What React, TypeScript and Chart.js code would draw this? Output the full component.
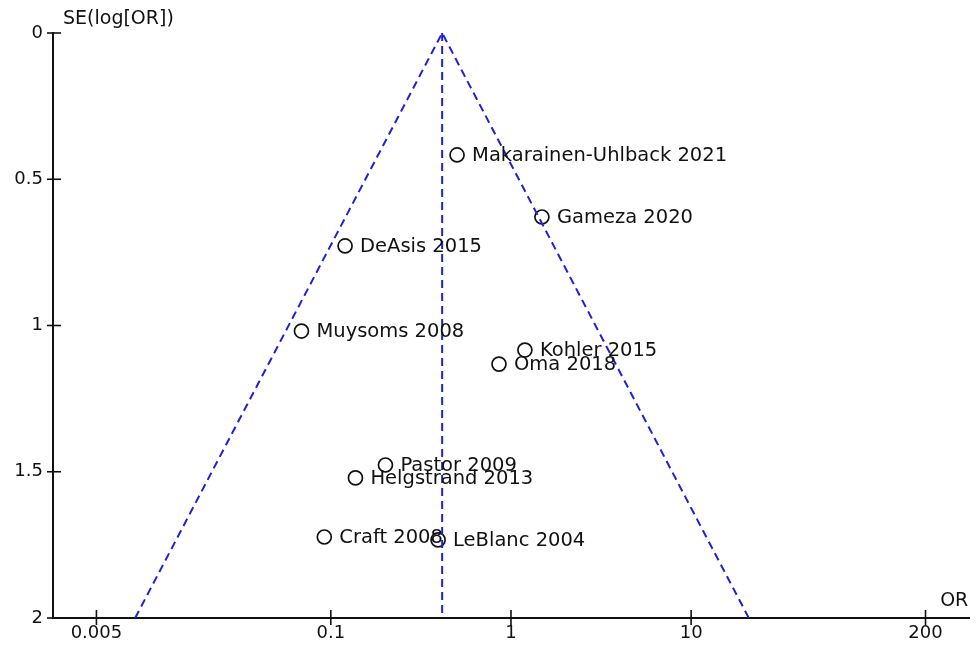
import React, { useEffect, useRef } from "react";
import { Chart, registerables } from "chart.js";

Chart.register(...registerables);

const studyNames = [
  "Makarainen-Uhlback 2021",
  "Gameza 2020",
  "DeAsis 2015",
  "Muysoms 2008",
  "Kohler 2015",
  "Oma 2018",
  "Pastor 2009",
  "Helgstrand 2013",
  "Craft 2008",
  "LeBlanc 2004",
];
const studyOR = [0.502, 1.485, 0.12, 0.0687, 1.195, 0.858, 0.201, 0.137, 0.092, 0.394];
const studySE = [0.417, 0.629, 0.728, 1.019, 1.084, 1.132, 1.477, 1.521, 1.723, 1.733];

const funnelOR = [0.0082, 0.415, 20.9];
const funnelSE = [2, 0, 2];
const pooledOR = [0.415, 0.415];
const pooledSE = [0, 2];

const xTicks = [0.005, 0.1, 1, 10, 200];
const yTicks = [0, 0.5, 1, 1.5, 2];

const FONT = "'DejaVu Sans', sans-serif";
const BLUE = "#2020d4";

export default function App() {
  const ref = useRef<HTMLCanvasElement>(null);

  useEffect(() => {
    if (!ref.current) return;

    const overlay = {
      id: "overlay",
      afterDatasetsDraw(chart: any) {
        const ctx = chart.ctx;
        const xs = chart.scales.x;
        const ys = chart.scales.y;
        const area = chart.chartArea;
        ctx.save();
        ctx.strokeStyle = "#111";
        ctx.lineWidth = 1.6;
        yTicks.forEach((v) => {
          const py = ys.getPixelForValue(v);
          ctx.beginPath();
          ctx.moveTo(area.left - 6, py);
          ctx.lineTo(area.left + 8, py);
          ctx.stroke();
        });
        xTicks.forEach((v) => {
          const px = xs.getPixelForValue(v);
          ctx.beginPath();
          ctx.moveTo(px, area.bottom - 8);
          ctx.lineTo(px, area.bottom + 7);
          ctx.stroke();
        });
        const meta = chart.getDatasetMeta(2);
        ctx.fillStyle = "#111";
        ctx.font = `19.5px ${FONT}`;
        ctx.textBaseline = "middle";
        ctx.textAlign = "left";
        meta.data.forEach((pt: any, i: number) => {
          ctx.fillText(studyNames[i], pt.x + 15, pt.y + 1);
        });
        ctx.font = `19px ${FONT}`;
        ctx.fillText("SE(log[OR])", area.left + 10, 19);
        ctx.textAlign = "right";
        ctx.fillText("OR", area.right - 1, 601);
        ctx.restore();
      },
    };

    const chart = new Chart(ref.current, {
      type: "scatter",
      data: {
        datasets: [
          {
            data: funnelOR.map((x, i) => ({ x, y: funnelSE[i] })),
            showLine: true,
            borderColor: BLUE,
            borderWidth: 2,
            borderDash: [8, 5],
            pointRadius: 0,
            fill: false,
          },
          {
            data: pooledOR.map((x, i) => ({ x, y: pooledSE[i] })),
            showLine: true,
            borderColor: BLUE,
            borderWidth: 2,
            borderDash: [8, 5],
            pointRadius: 0,
            fill: false,
          },
          {
            data: studyOR.map((x, i) => ({ x, y: studySE[i] })),
            showLine: false,
            pointRadius: 7,
            pointBorderWidth: 1.7,
            pointBorderColor: "#111",
            pointBackgroundColor: "rgba(0,0,0,0)",
          },
        ],
      },
      options: {
        responsive: false,
        animation: false,
        layout: { padding: { top: 33, right: 6, left: 0, bottom: 0 } },
        plugins: { legend: { display: false }, tooltip: { enabled: false } },
        scales: {
          x: {
            type: "logarithmic",
            min: 0.00287,
            max: 350,
            afterBuildTicks: (s: any) => {
              s.ticks = xTicks.map((v) => ({ value: v }));
            },
            afterFit: (s: any) => {
              s.height = 27;
            },
            grid: { display: false, tickLength: 0 },
            border: { display: true, color: "#111", width: 2 },
            ticks: {
              autoSkip: false,
              maxRotation: 0,
              padding: 5,
              color: "#111",
              font: { family: FONT, size: 18 },
              callback: (v: any) => String(v),
            },
          },
          y: {
            reverse: true,
            min: 0,
            max: 2,
            afterBuildTicks: (s: any) => {
              s.ticks = yTicks.map((v) => ({ value: v }));
            },
            afterFit: (s: any) => {
              s.width = 53;
            },
            grid: { display: false, tickLength: 0 },
            border: { display: true, color: "#111", width: 2 },
            ticks: {
              padding: 10,
              color: "#111",
              font: { family: FONT, size: 18 },
              callback: (v: any) => String(v),
            },
          },
        },
      },
      plugins: [overlay],
    });
    return () => chart.destroy();
  }, []);

  return (
    <div style={{ position: "absolute", left: 0, top: 0, width: 978, height: 645, background: "#fff" }}>
      <canvas ref={ref} width={978} height={645} style={{ display: "block" }} />
    </div>
  );
}
